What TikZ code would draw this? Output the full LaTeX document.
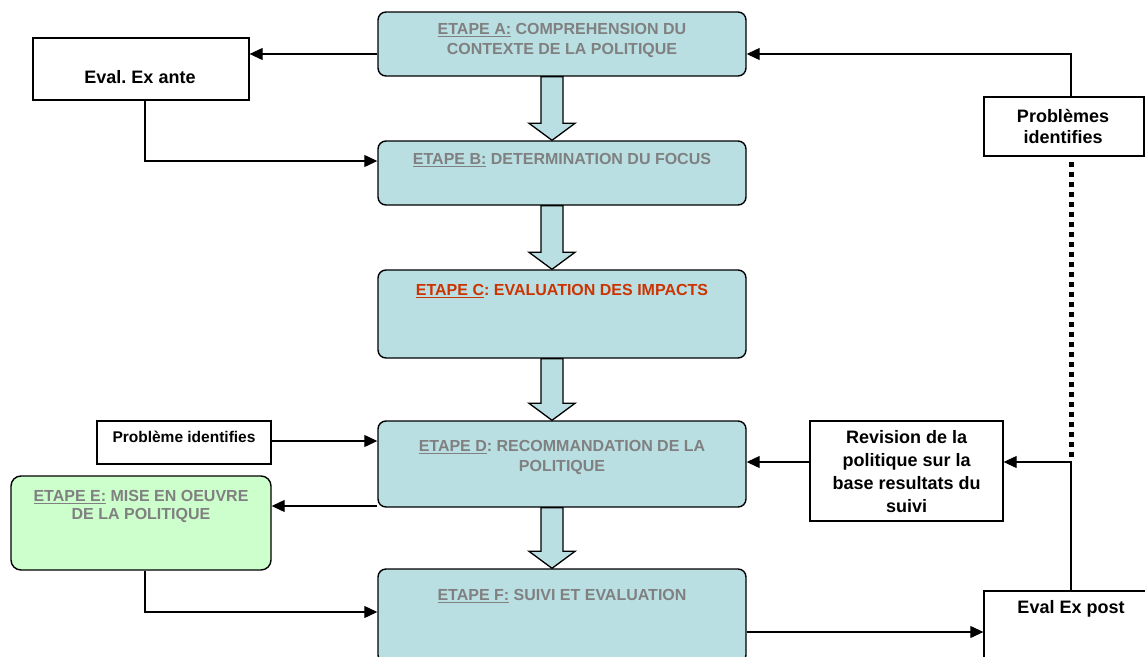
\documentclass[tikz,border=0pt]{standalone}
\usepackage{fontspec}
\setmainfont{Liberation Sans}
\usetikzlibrary{arrows.meta,calc}
\definecolor{boxblue}{HTML}{B9DFE3}
\definecolor{boxgreen}{HTML}{CCFFCC}
\definecolor{txtgray}{HTML}{808080}
\definecolor{txtred}{HTML}{CC3300}
\frenchspacing
\newcommand\myul[1]{\setbox0\hbox{#1}\rlap{\rule[-2.6pt]{\wd0}{1.3pt}}\box0\relax}
\newcommand\blockarr[2]{\draw[barrow] ($(#1.south)+(-21,0)$) -- ($(#2.north)+(-21,-17)$) -- ($(#2.north)+(-33,-17)$) -- ($(#2.north)+(-10,0)$) -- ($(#2.north)+(13,-17)$) -- ($(#2.north)+(1,-17)$) -- ($(#1.south)+(1,0)$) -- cycle;}
\begin{document}
\begin{tikzpicture}[x=1pt,y=-1pt,
  stage/.style={draw=black, line width=1.4pt, fill=boxblue, rounded corners=8pt, minimum width=368pt, inner sep=0pt},
  plain/.style={draw=black, line width=1.3pt, fill=white, inner sep=0pt},
  conn/.style={line width=1.1pt, -{Triangle[length=13pt,width=12pt]}},
  dotline/.style={line width=5pt, dash pattern=on 5pt off 5pt, dash phase=-5pt},
  barrow/.style={draw=black, line width=1.3pt, fill=boxblue, line join=miter},
  lbl/.style={font=\bfseries\fontsize{16}{20}\selectfont, text=txtgray, align=center, anchor=north, inner sep=0pt},
  blk/.style={font=\bfseries\fontsize{18}{23}\selectfont, text=black, align=center, anchor=north, inner sep=0pt}]
\useasboundingbox (0,0) rectangle (1145,656);
% boxes
\node[stage, minimum height=64pt] (A) at (562,44) {};
\node[stage, minimum height=64pt] (B) at (562,173) {};
\node[stage, minimum height=88pt] (C) at (562,314) {};
\node[stage, minimum height=86pt] (D) at (562,464) {};
\node[stage, minimum height=94pt] (F) at (562,616) {};
\node[stage, fill=boxgreen, minimum width=260pt, minimum height=94pt, rounded corners=10pt] (E) at (141,523) {};
\node[plain, minimum width=216pt, minimum height=62pt] (XA) at (141,69) {};
\node[plain, minimum width=174pt, minimum height=43pt] (PL) at (184,442.5) {};
\node[plain, minimum width=193pt, minimum height=100pt] (RV) at (906.5,471) {};
\node[plain, minimum width=160pt, minimum height=59pt] (PR) at (1064,126.5) {};
\node[plain, minimum width=176pt, minimum height=80pt] (XP) at (1072,631) {};
% block arrows
\blockarr{A}{B}
\blockarr{B}{C}
\blockarr{C}{D}
\blockarr{D}{F}
% helper coordinates
\coordinate (cx) at (1071,0);
\coordinate (c145) at (145,0);
\coordinate (ya) at (0,54);
\coordinate (y161) at (0,161);
\coordinate (y441) at (0,441);
\coordinate (y460) at (0,460);
\coordinate (y462) at (0,462);
\coordinate (y506) at (0,506);
\coordinate (y612) at (0,612);
\coordinate (y632) at (0,632);
% connectors
\draw[conn] (A.west |- ya) -- (XA.east |- ya);
\draw[conn] (PR.north -| cx) |- (A.east |- ya);
\draw[conn] (XA.south -| c145) |- (B.west |- y161);
\draw[dotline] (PR.south -| cx) -- (cx |- y460);
\draw[conn] (XP.north -| cx) |- (RV.east |- y462);
\draw[conn] (RV.west |- y462) -- (D.east |- y462);
\draw[conn] (PL.east |- y441) -- (D.west |- y441);
\draw[conn] (D.west |- y506) -- (E.east |- y506);
\draw[conn] (E.south -| c145) |- (F.west |- y612);
\draw[conn] (F.east |- y632) -- (XP.west |- y632);
% texts
\node[lbl] (tA) at (562,23.5) {\myul{ETAPE A:} COMPREHENSION DU\\CONTEXTE DE LA POLITIQUE};
\node[lbl] (tB) at (562,153.5) {\myul{ETAPE B:} DETERMINATION DU FOCUS};
\node[lbl, text=txtred] (tC) at (562,284.5) {\myul{ETAPE C}: EVALUATION DES IMPACTS};
\node[lbl] (tD) at (562,440.5) {\myul{ETAPE D}: RECOMMANDATION DE LA\\POLITIQUE};
\node[lbl, font=\bfseries\fontsize{16}{18}\selectfont] (tE) at (141,490.5) {\myul{ETAPE E:} MISE EN OEUVRE\\DE LA POLITIQUE};
\node[lbl] (tF) at (562,589.5) {\myul{ETAPE F:} SUIVI ET EVALUATION};
\node[blk] (tXA) at (140,70) {Eval. Ex ante};
\node[blk, font=\bfseries\fontsize{15.5}{18}\selectfont] (tPL) at (184,430.7) {Problème identifies};
\node[blk] (tRV) at (906.7,430) {Revision de la\\politique sur la\\base resultats du\\suivi};
\node[blk, font=\bfseries\fontsize{18}{21.7}\selectfont] (tPR) at (1063,108.7) {Problèmes\\identifies};
\node[blk] (tXP) at (1071,600) {Eval Ex post};
\end{tikzpicture}
\end{document}
